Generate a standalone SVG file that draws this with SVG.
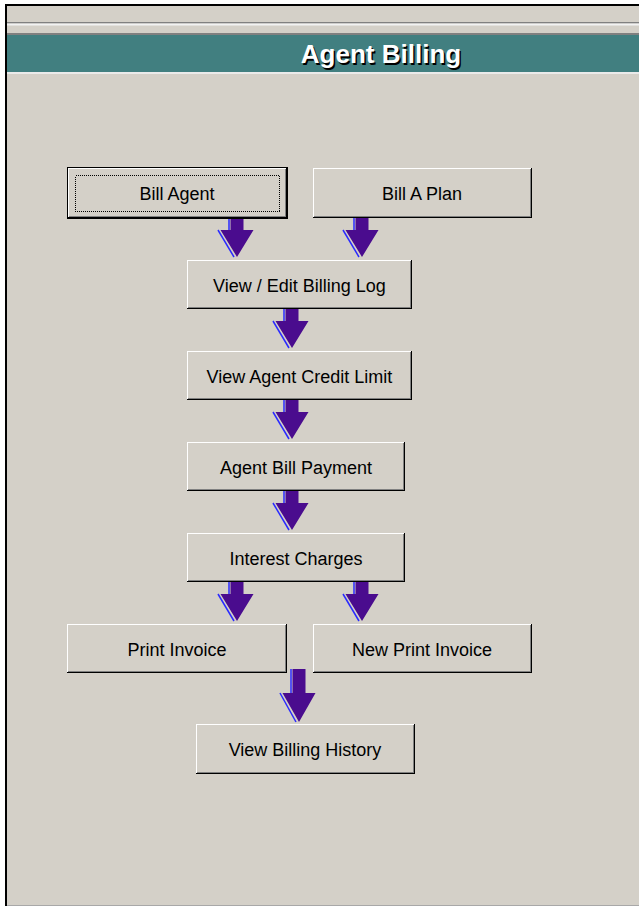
<svg xmlns="http://www.w3.org/2000/svg" width="639" height="906" viewBox="0 0 639 906">
<style>
  .face{fill:#d4d0c8}
  .hi{fill:#ffffff}
  .sh{fill:#808080}
  .dk{fill:#000000}
  .lbl{font-family:"Liberation Sans",Arial,sans-serif;font-size:18px;fill:#000;text-anchor:middle}
  .title{font-family:"Liberation Sans",Arial,sans-serif;font-size:26px;font-weight:bold;text-anchor:middle}
  .arr{fill:#4a0c8e}
  .ash{fill:none;stroke:#2a2aff;stroke-width:1.5}
</style>
<defs>
  <g id="arrow">
    <polyline class="ash" points="-8,0 -8,12"/>
    <line class="ash" x1="-19" y1="12" x2="-3" y2="39"/>
    <path class="arr" d="M-6.5,0 H6.5 V12 H16.5 L0,39 L-16.5,12 H-6.5 Z"/>
  </g>
</defs>
<rect x="0" y="0" width="639" height="906" fill="#ffffff"/>
<g id="frame">
  <rect x="7" y="6" width="632" height="899" class="face"/>
  <rect x="5" y="4" width="634" height="2" class="dk"/>
  <rect x="5" y="4" width="2" height="902" class="dk"/>
  <rect x="7" y="905" width="632" height="1" fill="#a8a8a8"/>
  <rect x="7" y="22" width="632" height="1.5" class="sh"/>
  <rect x="7" y="23.5" width="632" height="2" fill="#f2f2f2"/>
  <rect x="7" y="33" width="632" height="2" class="sh"/>
  <rect x="7" y="35" width="632" height="37" fill="#417f80"/>
  <rect x="7" y="72" width="632" height="2" fill="#eaeaea"/>
  <text class="title" x="382.5" y="64.5" fill="#000">Agent Billing</text>
  <text class="title" x="381" y="63" fill="#ffffff">Agent Billing</text>
</g>
<g id="connectors">
  <use href="#arrow" x="237" y="218"/>
  <use href="#arrow" x="362" y="218"/>
  <use href="#arrow" x="292" y="309"/>
  <use href="#arrow" x="292" y="400"/>
  <use href="#arrow" x="292" y="491"/>
  <use href="#arrow" x="237" y="582"/>
  <use href="#arrow" x="362" y="582"/>
  <g transform="translate(299,669)">
    <polyline class="ash" points="-8,0 -8,24"/>
    <line class="ash" x1="-19" y1="24" x2="-3" y2="53"/>
    <path class="arr" d="M-6.5,0 H6.5 V24 H16.5 L0,53 L-16.5,24 H-6.5 Z"/>
  </g>
</g>
<g id="node-bill-agent">
  <rect x="67" y="167" width="221" height="52" class="dk"/>
  <rect x="68" y="168" width="219" height="50" class="dk"/>
  <rect x="68" y="168" width="218" height="49" class="hi"/>
  <rect x="69" y="169" width="217" height="48" class="sh"/>
  <rect x="69" y="169" width="216" height="47" class="face"/>
  <rect x="75.5" y="175.5" width="204" height="36" fill="none" stroke="#000" stroke-width="1" stroke-dasharray="1,1" shape-rendering="crispEdges"/>
  <text class="lbl" x="177" y="200">Bill Agent</text>
</g>
<g id="node-bill-a-plan">
  <rect x="313" y="168" width="219" height="50" class="dk"/>
  <rect x="313" y="168" width="218" height="49" class="hi"/>
  <rect x="314" y="169" width="217" height="48" class="sh"/>
  <rect x="314" y="169" width="216" height="47" class="face"/>
  <text class="lbl" x="422" y="200">Bill A Plan</text>
</g>
<g id="node-view-edit-billing-log">
  <rect x="187" y="260" width="225" height="49" class="dk"/>
  <rect x="187" y="260" width="224" height="48" class="hi"/>
  <rect x="188" y="261" width="223" height="47" class="sh"/>
  <rect x="188" y="261" width="222" height="46" class="face"/>
  <text class="lbl" x="299.5" y="291.5">View / Edit Billing Log</text>
</g>
<g id="node-view-agent-credit-limit">
  <rect x="187" y="351" width="225" height="49" class="dk"/>
  <rect x="187" y="351" width="224" height="48" class="hi"/>
  <rect x="188" y="352" width="223" height="47" class="sh"/>
  <rect x="188" y="352" width="222" height="46" class="face"/>
  <text class="lbl" x="299.5" y="382.5">View Agent Credit Limit</text>
</g>
<g id="node-agent-bill-payment">
  <rect x="187" y="442" width="218" height="49" class="dk"/>
  <rect x="187" y="442" width="217" height="48" class="hi"/>
  <rect x="188" y="443" width="216" height="47" class="sh"/>
  <rect x="188" y="443" width="215" height="46" class="face"/>
  <text class="lbl" x="296" y="473.5">Agent Bill Payment</text>
</g>
<g id="node-interest-charges">
  <rect x="187" y="533" width="218" height="49" class="dk"/>
  <rect x="187" y="533" width="217" height="48" class="hi"/>
  <rect x="188" y="534" width="216" height="47" class="sh"/>
  <rect x="188" y="534" width="215" height="46" class="face"/>
  <text class="lbl" x="296" y="564.5">Interest Charges</text>
</g>
<g id="node-print-invoice">
  <rect x="67" y="624" width="220" height="49" class="dk"/>
  <rect x="67" y="624" width="219" height="48" class="hi"/>
  <rect x="68" y="625" width="218" height="47" class="sh"/>
  <rect x="68" y="625" width="217" height="46" class="face"/>
  <text class="lbl" x="177" y="655.5">Print Invoice</text>
</g>
<g id="node-new-print-invoice">
  <rect x="313" y="624" width="219" height="49" class="dk"/>
  <rect x="313" y="624" width="218" height="48" class="hi"/>
  <rect x="314" y="625" width="217" height="47" class="sh"/>
  <rect x="314" y="625" width="216" height="46" class="face"/>
  <text class="lbl" x="422" y="655.5">New Print Invoice</text>
</g>
<g id="node-view-billing-history">
  <rect x="196" y="724" width="219" height="50" class="dk"/>
  <rect x="196" y="724" width="218" height="49" class="hi"/>
  <rect x="197" y="725" width="217" height="48" class="sh"/>
  <rect x="197" y="725" width="216" height="47" class="face"/>
  <text class="lbl" x="305" y="756">View Billing History</text>
</g>
</svg>
